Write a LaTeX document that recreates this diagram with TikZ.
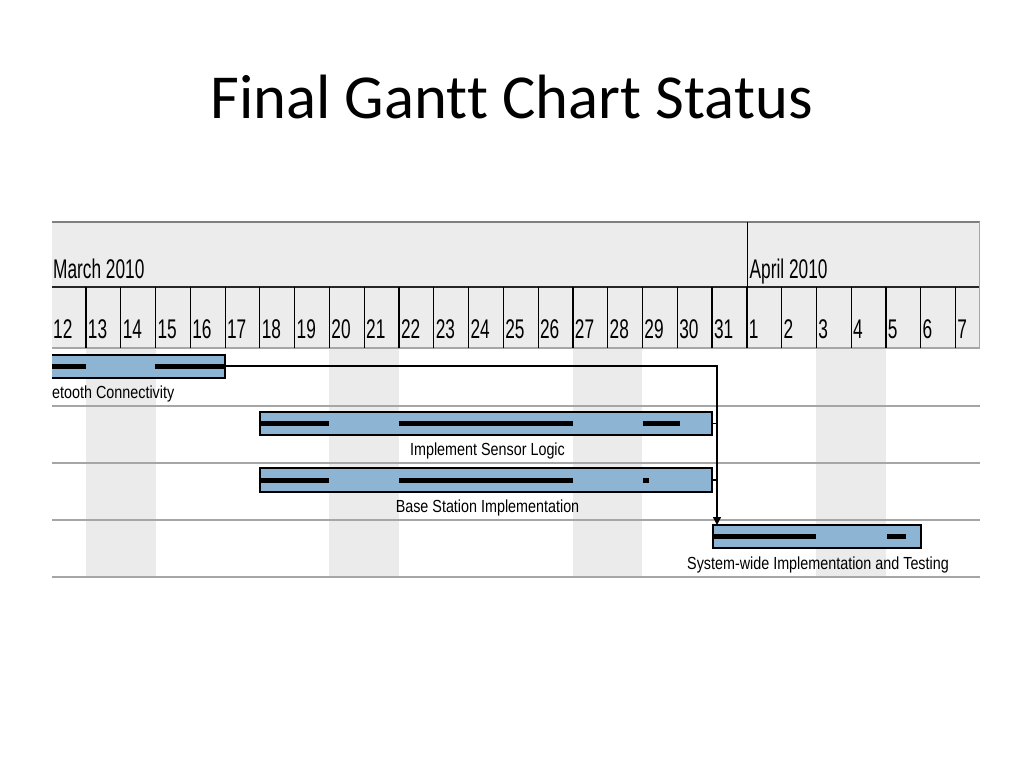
\documentclass[tikz,border=0pt]{standalone}
\usepackage{fontspec}
\setmainfont[Ligatures=NoCommon]{Carlito}
\newfontfamily\hdrfont[FakeStretch=0.64]{Liberation Sans}
\newfontfamily\lblfont[FakeStretch=0.82]{Liberation Sans}
\usetikzlibrary{arrows.meta}
\definecolor{hdrgray}{HTML}{ECECEC}
\definecolor{wkgray}{HTML}{EBEBEB}
\definecolor{rowline}{HTML}{A6A6A6}
\definecolor{hdrline}{HTML}{7F7F7F}
\definecolor{barblue}{HTML}{8DB4D2}
\begin{document}
\begin{tikzpicture}[x=1pt,y=-1pt,
  hdrtext/.style={inner sep=0pt,anchor=base west,font=\hdrfont\fontsize{27}{30}\selectfont},
  tasklabel/.style={inner sep=0pt,anchor=base,font=\lblfont\fontsize{17.5}{20}\selectfont},
  taskbar/.style={draw=black,line width=1.6pt,fill=barblue,inner sep=0pt,outer sep=0pt,anchor=north west},
  progress/.style={fill=black},
  link/.style={draw=black,line width=1.3pt},
  rowsep/.style={draw=rowline,line width=1.6pt},
  daysep/.style={draw=black,line width=1.2pt}]
\useasboundingbox (0,0) rectangle (1024,768);
\fill[white] (0,0) rectangle (1024,768);
% title
\node[inner sep=0pt,anchor=base,font=\fontsize{62.6}{70}\selectfont] (title) at (511.5,118) {Final Gant\kern0pt t Chart Status};
\begin{scope}
\clip (52,218) rectangle (982,600);
% weekend shading
\foreach \i in {1,8,15,22}{
  \fill[wkgray] ({51.2+34.78*\i},348) rectangle ({51.2+34.78*(\i+2)},577);
}
% header
\fill[hdrgray] (52,222) rectangle (979,348);
\draw[hdrline,line width=2pt] (40,222) -- (980,222);
\draw[black!85,line width=2pt] (40,287) -- (980,287);
\draw[rowline,line width=2pt] (40,348) -- (980,348);
\draw[rowline,line width=1.6pt] (979.5,222) -- (979.5,348);
\draw[daysep] (747.6,222) -- (747.6,348);
\foreach \i in {1,...,26}{
  \draw[daysep] ({51.2+34.78*\i},287) -- ({51.2+34.78*\i},348);
}
\node[hdrtext] (march) at (53,278) {March 2010};
\node[hdrtext] (april) at (749.5,278) {April 2010};
\foreach \d [count=\i from 0] in {12,13,14,15,16,17,18,19,20,21,22,23,24,25,26,27,28,29,30,31,1,2,3,4,5,6,7}{
  \node[hdrtext] (day\i) at ({53+34.78*\i},338.5) {\d};
}
% row separators
\foreach \y in {406,463,520,577}{
  \draw[rowsep] (40,\y) -- (980,\y);
}
% bars
\node[taskbar,minimum width=176pt,minimum height=23pt] (bar1) at (49,355) {};
\node[taskbar,minimum width=452pt,minimum height=23pt] (bar2) at (260,412) {};
\node[taskbar,minimum width=452pt,minimum height=24pt] (bar3) at (260,468) {};
\node[taskbar,minimum width=208pt,minimum height=23pt] (bar4) at (713,525) {};
% progress
\fill[progress] (49,364) rectangle (86,369);
\fill[progress] (155,364) rectangle (225,369);
\fill[progress] (260,421) rectangle (329,426);
\fill[progress] (399,421) rectangle (573,426);
\fill[progress] (643,421) rectangle (680,426);
\fill[progress] (260,477.5) rectangle (329,482.5);
\fill[progress] (399,477.5) rectangle (573,482.5);
\fill[progress] (643,477.5) rectangle (649,482.5);
\fill[progress] (713,534) rectangle (816,539);
\fill[progress] (887,534) rectangle (906,539);
% labels
\node[tasklabel,anchor=base west] (lab1) at (52,398) {etooth Connectivity};
\node[tasklabel] (lab2) at (487.5,455) {Implement Sensor Logic};
\node[tasklabel] (lab3) at (487.5,512) {Base Station Implementation};
\node[tasklabel] (lab4) at (818,569) {System-wide Implementation and Testing};
% links
\coordinate (turn) at (717,366);
\draw[link,-{Triangle[length=8pt,width=8pt]}] (bar1.east |- 0,366) -- (turn) -- (turn |- bar4.north);
\draw[link] (bar2.east) -- (turn |- bar2.east);
\draw[link] (bar3.east) -- (turn |- bar3.east);
\end{scope}
\end{tikzpicture}
\end{document}
